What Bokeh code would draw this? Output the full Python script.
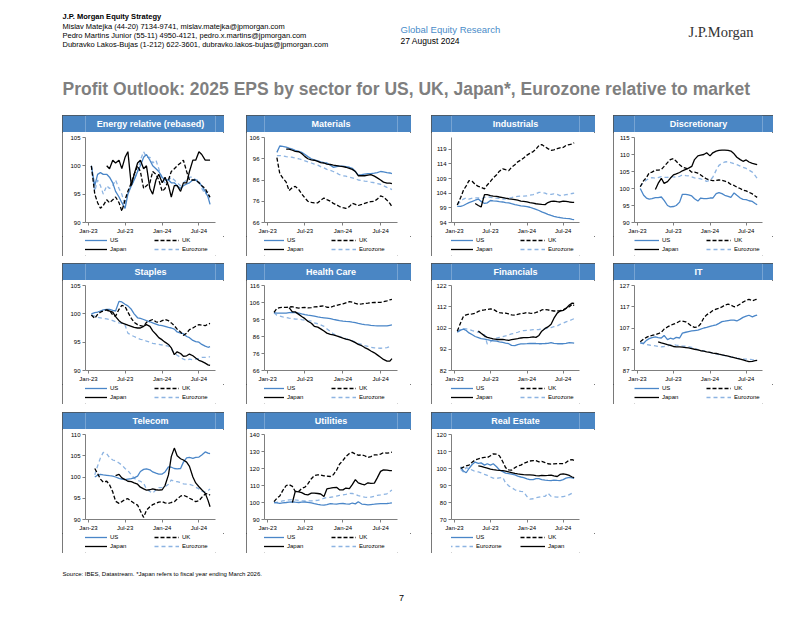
import calendar
from datetime import datetime
import numpy as np
from bokeh.plotting import figure
from bokeh.models import (Range1d, FixedTicker, DatetimeTickFormatter, Label,
                          Legend, LegendItem, Spacer, ColumnDataSource)
from bokeh.layouts import column, row
from bokeh.embed import file_html
from bokeh.resources import INLINE

FONT = "Liberation Sans"
BAR = "#4A86C4"
US_C = "#4A86C8"
EZ_C = "#8DB4E2"
AX = "#7F7F7F"

# ---------------- dates (semi-monthly, Jan-23 .. Aug-24) ----------------
DATES = [datetime(2023, 1, 15)]
for _y, _m in [(2023, mm) for mm in range(2, 13)] + [(2024, mm) for mm in range(1, 9)]:
    DATES += [datetime(_y, _m, 1), datetime(_y, _m, 15)]
DATES.append(datetime(2024, 8, 25))
N = len(DATES)

X_TICKS = [datetime(2023, 1, 1), datetime(2023, 7, 1), datetime(2024, 1, 1), datetime(2024, 7, 1)]
X_MIN, X_MAX = datetime(2022, 12, 17), datetime(2024, 9, 21)

# ---------------- data ----------------
ENERGY_US = [100, 96.5, 98.5, 98.8, 98.5, 98.5, 98, 97, 95.5, 94.5, 93.5, 92.5, 95, 96.5, 97.5, 99, 100, 101.5, 102, 101,
             100, 99.5, 99, 98, 97.5, 97.5, 97, 97, 96.5, 96, 96.5, 96.8, 97, 97.5, 97.5, 97, 96.5, 95.5, 94.5, 93.2]
ENERGY_UK = [100, 95, 93.5, 92.5, 93, 94, 93.5, 94, 94.5, 93.5, 92, 94, 95.5, 97, 98.5, 100, 99, 96, 96.5, 97,
             99, 98.5, 97.5, 95.5, 96, 97.5, 99, 99.5, 100, 100.5, 101, 99, 97.5, 97.5, 97.5, 97, 96.5, 96, 95, 94.5]
ENERGY_JP = [None] * 5 + [100, 99.5, 101, 100.5, 101, 99.5, 101.5, 102.5, 96.5, 98.5, 100.5, 101, 99.5, 100, 96,
                          95, 97.5, 98.5, 97, 98, 96.5, 94.5, 96.5, 96.5, 95.5, 97, 97, 99, 101, 101, 102.5, 102, 101, 101, 101]
ENERGY_EZ = [100, 95.5, 97.5, 96.5, 95, 96.5, 96, 96.5, 97.5, 96, 95, 93, 95.5, 96.5, 97.5, 99, 101, 102.5, 101.5, 101.5,
             100.5, 101, 99.5, 97.5, 97, 97.5, 98, 97.5, 97, 96.5, 97, 97.5, 98, 98, 97.5, 97.5, 96, 95, 95.5, 94]

MATERIALS_US = [None] * 2 + [99, 102, 101.8, 101.5, 101, 100.5, 100, 99.5, 99, 98, 97, 96, 95.5, 95, 94.5, 94.2, 94, 93, 92,
                             92.3, 92.5, 92.5, 92.3, 92, 91.5, 90, 88.3, 88.5, 88.8, 89, 89, 89.2, 89.5, 90, 89.8, 89.5, 89.3, 89]
MATERIALS_UK = [None] * 2 + [96.5, 89, 87, 85, 81, 82.5, 83, 81.5, 79.5, 77.5, 76, 75.5, 75.2, 75.3, 76.5, 77.5, 76.8, 76,
                             75, 74.3, 73.5, 73, 72.6, 73.5, 75, 74.5, 74, 74.5, 75, 75.5, 75.8, 76, 77, 78.5, 78, 76.5, 75, 73.5]
MATERIALS_JP = [None] * 5 + [100.5, 100.5, 100, 99.5, 99.3, 98.5, 97, 96, 95.5, 95.3, 94.8, 94.2, 94, 93.5, 93.3, 93, 92.8,
                             92.5, 92.3, 92, 91.5, 91, 90, 88, 88, 88, 88.3, 88.5, 87.8, 87, 86, 85, 84.5, 84.5, 84.3]
MATERIALS_EZ = [None] * 2 + [97.5, 97.5, 97.3, 97, 96.8, 96.7, 96.3, 96, 95.5, 95, 94.5, 94, 93.5, 93, 92.3, 91.7, 91, 90.5,
                             90, 89.3, 88.5, 88, 87.8, 87.3, 87, 86.5, 86, 85.8, 85.5, 85.3, 85, 84.7, 84.3, 84, 83.3, 82.5, 82, 81.5]

INDUSTRIALS_US = [99.5, 99.5, 99.8, 100.3, 100.8, 101.2, 101.6, 102, 101.2, 100.5, 100.7, 101.5, 101.4, 101.3, 101.1, 101,
                  100.8, 100.7, 100.4, 100.1, 99.9, 99.7, 99.6, 99.4, 99.2, 98.8, 98.5, 98.1, 97.6, 97.2, 96.8, 96.4, 96.1,
                  95.8, 95.7, 95.5, 95.4, 95.3, 95.1, 95]
INDUSTRIALS_UK = [100, 102.5, 105, 106.5, 108.3, 108, 107, 106.3, 106, 105.5, 106.8, 108, 109.2, 110.3, 111.5, 112.3, 112,
                  111.7, 112.8, 113.7, 114.7, 115.3, 116, 117, 117.6, 118.2, 119, 120.3, 120.6, 119.8, 119.2, 118.6, 118.8,
                  119.2, 119.5, 119.6, 120.3, 120.6, 120.8, 121.2]
INDUSTRIALS_JP = [None] * 6 + [100.5, 99.8, 99.3, 103.5, 103.5, 103.2, 103, 102.9, 102.7, 102.5, 102.3, 102.1, 102, 101.8,
                               101.6, 101.3, 101.2, 101, 100.8, 100.6, 100.4, 100.3, 100.2, 100.1, 100.8, 101.2, 101.3, 101.1,
                               101, 101.3, 101.2, 101, 100.9, 100.9]
INDUSTRIALS_EZ = [100, 101.2, 102, 102.4, 102, 102.3, 102.4, 102.4, 102, 102.6, 102.8, 102.6, 102.4, 102.3, 102.2, 102,
                  102.1, 102.3, 102.5, 102.8, 102.9, 103, 103, 103.1, 103.3, 103.5, 103.8, 104.3, 104.2, 104, 103.6, 103.6,
                  103.8, 103.6, 103.2, 103.3, 103.5, 103.6, 103.9, 104]

DISCRETIONARY_US = [100, 98, 97.2, 96.9, 97, 97.3, 97.3, 97.5, 96.5, 95, 94.6, 94.7, 95, 96, 98.3, 98.3, 98.1, 97.8, 97, 96.3,
                    97.2, 97, 97, 97.2, 97.2, 98.5, 98.8, 98.5, 98, 97.7, 97.4, 98.7, 98, 97.2, 96.8, 96.7, 96.4, 96.2, 95.6, 95.2]
DISCRETIONARY_UK = [100.5, 102.3, 103.2, 104.6, 104.8, 105.4, 105.4, 105.6, 106.5, 107.6, 108.5, 108.8, 108, 107, 106.3, 106,
                    105.6, 104.8, 104.8, 104.5, 104, 103.3, 102.8, 102.5, 102.3, 102.4, 102.5, 102.4, 102.2, 101.8, 101.2,
                    100.9, 100.4, 100, 99.5, 99.3, 98.9, 98.4, 97.8, 97.4]
DISCRETIONARY_JP = [None] * 5 + [99.7, 101.5, 103, 101.5, 102, 103, 104, 104.3, 104.7, 105.2, 105.6, 106, 106.5, 108.5, 109.6,
                                 109.8, 110, 110.5, 109.6, 110.5, 111, 111.2, 111.3, 111.3, 111.2, 111, 110.2, 109.2, 108.5,
                                 108, 108.4, 107.8, 107.4, 107.2, 107]
DISCRETIONARY_EZ = [100.6, 101.8, 102.5, 103, 103.2, 103, 103.2, 103.5, 103.3, 103.3, 103.5, 103.4, 103.3, 103.6, 104, 103.8,
                    103.7, 103.4, 103.1, 103, 102.8, 102.5, 102.1, 102.4, 103.3, 105.4, 106.8, 107.4, 107.8, 107.9, 107.6,
                    107.3, 107, 106.6, 106.2, 105.9, 105.4, 104.8, 103.8, 103]

STAPLES_US = [100, 100.2, 100.3, 100.5, 100.7, 100.8, 100.8, 100.6, 100.5, 102.2, 102.1, 101.7, 101.4, 100.8, 100, 99.3, 99.2,
              99, 98.8, 98.6, 98.4, 98.2, 98, 97.9, 97.8, 97.6, 97.5, 97.3, 96.8, 96.6, 96.5, 96, 95.8, 95.3, 95.1, 95, 94.6,
              94.3, 94.1, 94.2]
STAPLES_UK = [99.8, 99.2, 99.9, 100.3, 100.5, 100.7, 100.6, 99.8, 99.6, 100.8, 101.5, 101.3, 100.3, 99.2, 98.5, 98.1, 97.9,
              97.8, 98.5, 98.8, 99, 98.6, 98.5, 98.8, 99, 98.8, 98.4, 97.9, 97.3, 96.8, 96.2, 96.6, 97.2, 97.5, 97.8, 98.1, 98,
              97.9, 98.2, 98.3]
STAPLES_JP = [None] * 5 + [100.6, 100.5, 100.3, 99.5, 98.8, 98.4, 98.2, 98, 97.8, 97.6, 97.5, 97.5, 97.8, 98.1, 97.8, 97,
                           96.4, 95.8, 95.4, 95, 94.6, 94, 92.8, 93.3, 93, 92.5, 92.6, 92.9, 92.6, 92.2, 91.8, 91.6, 91.3, 91,
                           90.9]
STAPLES_EZ = [99.8, 99.6, 99.4, 99.3, 99.2, 99.1, 99, 98.8, 98.6, 98.4, 98.3, 98, 96.6, 96.2, 96, 95.7, 95.5, 95.4, 95.2, 95,
              94.8, 94.7, 94.6, 94.5, 94.4, 94.3, 93.8, 93.1, 92.7, 92.3, 92, 91.8, 92, 91.9, 92, 92.1, 92.3, 92.3, 92.4, 92.4]

HEALTHCARE_US = [None] + [100, 99.8, 99.7, 99.7, 99.8, 100, 100.2, 100, 99.7, 99.3, 98.9, 98.6, 98.3, 98, 97.5, 97.2, 97,
                          96.8, 96.5, 96.1, 95.7, 95.4, 95.1, 94.9, 94.7, 94.4, 94.1, 93.7, 93.3, 93, 92.8, 92.6, 92.4, 92.3,
                          92.2, 92.2, 92.3, 92.6, 92.8]
HEALTHCARE_UK = [None] + [100.2, 102.5, 103, 103.1, 103.1, 103.3, 103.5, 103, 102.7, 103, 103.1, 102.8, 103, 103.4, 103.5,
                          103.8, 104, 103.2, 103.1, 103.8, 104.3, 104.8, 105.2, 105.8, 106.5, 106.2, 105.5, 105, 105.2,
                          105.4, 105.6, 105.9, 106, 106, 106.1, 106.5, 107, 107.6, 107.8]
HEALTHCARE_JP = [None] * 6 + [103, 100.5, 100.5, 99, 97.8, 96.5, 95, 93.8, 92, 91.5, 90.5, 89.2, 88, 87.3, 87, 86.4, 85.8,
                              85, 84.4, 84, 83.3, 82.4, 81.4, 80.6, 79.5, 78.6, 77.5, 76.4, 75.2, 73.8, 72.5, 71.5, 71.5, 73]
HEALTHCARE_EZ = [None] + [100, 98.5, 98, 97.5, 97.2, 96.8, 96.4, 96.3, 96.2, 95.9, 95.6, 95.3, 95, 94, 93.5, 92.8, 92, 90.5,
                          89, 87.5, 86.6, 85.9, 85.3, 84.7, 84.1, 83.5, 82.8, 82, 81.3, 80.7, 80.2, 79.7, 79.3, 79.2, 79.1,
                          79.2, 79.5, 80, 80]

FINANCIALS_US = [100, 101, 101.5, 100.8, 99.7, 98.8, 98, 97.5, 97, 96.8, 96.5, 96.2, 96, 95.8, 95.5, 95.2, 94.9, 94.6, 93.8,
                 93.7, 94.2, 94.5, 94.5, 94.6, 94.7, 94.8, 94.7, 94.6, 94.6, 94.7, 94.8, 95.1, 94.8, 94.6, 94.6, 94.6, 94.8,
                 95.1, 95, 94.9]
FINANCIALS_UK = [100.5, 104.5, 107.5, 108.2, 108.5, 108.6, 108.9, 109.8, 110.3, 110.5, 110.7, 111, 110.8, 109.8, 109.2, 109,
                 109, 108.6, 108.2, 108, 108.4, 108.8, 108.9, 109.3, 109, 108.8, 109.3, 109.7, 110.5, 110.7, 110.5, 110.2,
                 110, 110, 110.2, 110.5, 111.3, 112, 113.2, 112.6]
FINANCIALS_JP = [None] * 7 + [100.6, 99.5, 98.3, 97.6, 97.2, 96.9, 96.6, 96.6, 96.6, 96.4, 96.2, 96.5, 96.8, 97, 97.3, 97.5,
                              97.5, 97.6, 97.8, 97.6, 98.5, 100.5, 101.8, 102.5, 103.8, 106.5, 109, 110, 110.3, 111.2, 112.8,
                              113.7, 113.6]
FINANCIALS_EZ = [100.3, 101.5, 101.7, 101.6, 101.3, 100.8, 100.4, 100, 99.6, 98.8, 94.5, 95.5, 96.5, 97.2, 97.6, 97.9, 98.3,
                 98.8, 99.2, 99.6, 100, 100.5, 100.8, 100.9, 101, 101.2, 101.2, 101.3, 101.5, 101.7, 101.9, 102.2, 102.6, 103,
                 103.7, 104.3, 104.9, 105.4, 106, 106.4]

IT_US = [100, 99.8, 101.2, 102, 102.5, 102.8, 102.5, 102.3, 103.5, 101.5, 102.2, 101.8, 102.6, 102.3, 104.6, 105, 105.3, 105.6,
         105.8, 106, 106.5, 107, 107.3, 107.8, 108.1, 108.5, 109.2, 110, 110.2, 110.5, 110.7, 110.7, 110.3, 111.2, 112, 112.6,
         113, 112.2, 112.8, 113.1]
IT_UK = [100.5, 101.8, 102.6, 103.2, 103.5, 103.9, 104.3, 105, 106.5, 107.5, 108.2, 108.8, 109.3, 110.2, 110.3, 109.9, 109,
         107.8, 107.3, 107.5, 109, 111.8, 113.2, 114.2, 115.2, 115.9, 116.3, 116.9, 117.8, 118.2, 117.8, 117, 117.3, 118.3,
         119.2, 120, 120.5, 119.8, 120.3, 120.5]
IT_JP = [None] * 6 + [100.5, 100, 99.7, 99.2, 98.8, 98.3, 98.1, 98.1, 98, 97.8, 97.6, 97.3, 97, 96.7, 96.3, 96.1, 95.8, 95.5,
                      95.2, 95, 94.7, 94.4, 94.1, 93.8, 93.4, 93.1, 92.7, 92.4, 92, 91.5, 91.2, 91.3, 91.6, 91.8]
IT_EZ = [100, 99.5, 99.2, 99, 98.8, 98.6, 98.3, 98.1, 98.3, 98.6, 99, 99.1, 98.9, 98.7, 98.5, 98.4, 98.2, 97.9, 97.4, 96.8,
         96.4, 96.2, 95.8, 95.5, 95.1, 94.8, 94.5, 94.3, 94, 93.7, 93.4, 93.1, 92.8, 92.5, 92.4, 92.4, 92.3, 92.1, 92, 92]

TELECOM_US = [None] + [100, 100.4, 100.6, 100.5, 100.4, 100.3, 100.2, 100, 99.7, 99.5, 99.4, 99.5, 99.6, 99.8, 100.2, 101.3,
                       101.8, 101.9, 101.7, 101.2, 100.9, 100.7, 100.7, 101.2, 102.4, 102.3, 102, 101.9, 102, 103.5, 104.5,
                       104.6, 104.4, 104.6, 104.7, 105.2, 105.9, 105.6, 105.5]
TELECOM_UK = [None] + [102, 100.8, 99.5, 98.8, 99, 98.2, 96.5, 94.3, 93.8, 94.2, 94.7, 94.9, 94.3, 93.8, 93.4, 92, 90.5, 92.2,
                       93, 93.5, 93.8, 94.1, 94.2, 93.9, 93.8, 94, 94.2, 94.8, 95.5, 95.7, 95.4, 95, 94.6, 94.2, 94.4, 95.2,
                       96, 96.1, 95.7]
TELECOM_JP = [None] * 8 + [100.3, 100.6, 99.8, 99.4, 99, 98.9, 98.6, 98.3, 97.6, 97.2, 96.9, 97, 97.2, 97, 96.9, 97, 98,
                           100.5, 104.8, 106.8, 105, 104.3, 104, 103.5, 102.5, 100, 98.6, 97.7, 97, 96.2, 94.5, 93]
TELECOM_EZ = [None] + [100.5, 102.6, 104.5, 105.8, 105.5, 104.6, 104, 103.8, 103.3, 102.8, 102, 101.5, 100.5, 99.7, 99.2, 99,
                       98.5, 97.2, 96.6, 96.2, 97, 97.5, 97.5, 97.7, 98.3, 99.3, 99, 98.9, 98.7, 98.4, 98.3, 98.3, 98, 97.6,
                       97.2, 96.6, 96.5, 96.8, 97.2]

UTILITIES_US = [None] + [100, 99.8, 99.5, 99.8, 100, 100.2, 100.4, 100.2, 100, 100.2, 100.3, 100.1, 99.8, 99.3, 98.9, 98.6,
                         98.5, 98.8, 99.3, 99.2, 99.1, 99.3, 99.4, 99.2, 99, 99.7, 99.2, 100.4, 99.1, 98.9, 98.6, 98.8, 99,
                         99.2, 99.3, 99.3, 99.4, 99.6, 99.8]
UTILITIES_UK = [None] + [100.5, 102.5, 103.8, 107, 110, 110.5, 109.5, 106.5, 106.5, 108.3, 109, 111, 114, 115.8, 116.3, 116.2,
                         115.7, 115.5, 115.3, 116.3, 119, 122.5, 124.8, 127, 128.8, 129.5, 128.5, 127.8, 128, 127.5, 126.5,
                         127, 128, 128, 128.5, 129.3, 129, 129.3, 129.6]
UTILITIES_JP = [None] * 7 + [100, 106.5, 106.2, 105.8, 104.8, 104.5, 105.5, 105.5, 105.3, 105, 103.5, 108, 108.4, 108.8,
                             108.9, 107.5, 107.4, 108.5, 108.2, 110.5, 113.5, 111.5, 110.8, 110.4, 111.6, 111.3, 111.4, 114.5,
                             118.3, 119.2, 119, 118.8, 118.7]
UTILITIES_EZ = [None] + [100, 100.1, 100.5, 100.9, 101.2, 101.6, 101.7, 101.5, 101.3, 101.1, 100.9, 100.9, 101, 101.1, 101.3,
                         101.8, 102.5, 102.9, 103.1, 103.3, 103.8, 104.2, 104.5, 104.8, 105.4, 105.3, 104.8, 104, 103.5,
                         103.2, 102.9, 103.2, 103.7, 104.2, 104.5, 104.8, 105.1, 106.5, 107.4]

REALESTATE_US = [None] + [101, 98.5, 97.5, 100, 102.5, 103.8, 103, 103.3, 102, 102.8, 102, 102.8, 101, 99.2, 98.2, 97.3, 97,
                          96.7, 96.2, 95.5, 95, 94.6, 93.9, 93.4, 93.4, 94.1, 94, 93.5, 93.2, 93, 92.9, 93.2, 93, 92.9, 93.5,
                          94.3, 94.8, 94.5, 94.2]
REALESTATE_UK = [None] + [100, 100.8, 101.5, 102, 103.8, 105, 105.6, 106.2, 106.6, 106.4, 107.5, 108.6, 108.4, 107.5, 104,
                          100.5, 99.2, 99, 100.5, 101.4, 102, 103, 103.8, 104.4, 104.6, 104.6, 103.9, 104.2, 103.5, 102.8,
                          102.6, 102.7, 102.9, 102.9, 102.9, 103.5, 105, 105.2, 104.8]
REALESTATE_JP = [None] * 7 + [101.5, 101.2, 100.6, 100.2, 99.6, 99.3, 99, 98.9, 98.8, 98.5, 98, 97.6, 97.1, 96.8, 96.6, 96.4,
                              96.2, 96.2, 96.1, 95.8, 95.7, 96, 95.8, 95.9, 96.1, 95.6, 95.3, 96.5, 96.9, 96.6, 95.9, 95,
                              94.6]
REALESTATE_EZ = [None] + [99.5, 98, 100.5, 100, 99, 98.2, 98, 97.4, 96.6, 96, 95, 94.3, 94.2, 94.5, 94.8, 91.5, 89.8, 88.8,
                          87.5, 86.8, 86.5, 86.3, 83.5, 82, 82.2, 82.8, 83.2, 83.5, 83.6, 85.5, 83.6, 83.3, 83.2, 83.3, 83.5,
                          83.8, 84.6, 85.5, 86]

LEGEND_STD = [["US", "UK"], ["Japan", "Eurozone"]]
LEGEND_RE = [["US", "UK"], ["Eurozone", "Japan"]]

PANELS = [
    ("Energy relative (rebased)", (90, 105), [90, 95, 100, 105],
     {"US": ENERGY_US, "UK": ENERGY_UK, "Japan": ENERGY_JP, "Eurozone": ENERGY_EZ}, LEGEND_STD),
    ("Materials", (66, 106), [66, 76, 86, 96, 106],
     {"US": MATERIALS_US, "UK": MATERIALS_UK, "Japan": MATERIALS_JP, "Eurozone": MATERIALS_EZ}, LEGEND_STD),
    ("Industrials", (94, 123), [94, 99, 104, 109, 114, 119],
     {"US": INDUSTRIALS_US, "UK": INDUSTRIALS_UK, "Japan": INDUSTRIALS_JP, "Eurozone": INDUSTRIALS_EZ}, LEGEND_STD),
    ("Discretionary", (90, 115), [90, 95, 100, 105, 110, 115],
     {"US": DISCRETIONARY_US, "UK": DISCRETIONARY_UK, "Japan": DISCRETIONARY_JP, "Eurozone": DISCRETIONARY_EZ}, LEGEND_STD),
    ("Staples", (90, 105), [90, 95, 100, 105],
     {"US": STAPLES_US, "UK": STAPLES_UK, "Japan": STAPLES_JP, "Eurozone": STAPLES_EZ}, LEGEND_STD),
    ("Health Care", (66, 116), [66, 76, 86, 96, 106, 116],
     {"US": HEALTHCARE_US, "UK": HEALTHCARE_UK, "Japan": HEALTHCARE_JP, "Eurozone": HEALTHCARE_EZ}, LEGEND_STD),
    ("Financials", (82, 122), [82, 92, 102, 112, 122],
     {"US": FINANCIALS_US, "UK": FINANCIALS_UK, "Japan": FINANCIALS_JP, "Eurozone": FINANCIALS_EZ}, LEGEND_STD),
    ("IT", (87, 127), [87, 97, 107, 117, 127],
     {"US": IT_US, "UK": IT_UK, "Japan": IT_JP, "Eurozone": IT_EZ}, LEGEND_STD),
    ("Telecom", (90, 110), [90, 95, 100, 105, 110],
     {"US": TELECOM_US, "UK": TELECOM_UK, "Japan": TELECOM_JP, "Eurozone": TELECOM_EZ}, LEGEND_STD),
    ("Utilities", (90, 140), [90, 100, 110, 120, 130, 140],
     {"US": UTILITIES_US, "UK": UTILITIES_UK, "Japan": UTILITIES_JP, "Eurozone": UTILITIES_EZ}, LEGEND_STD),
    ("Real Estate", (70, 120), [70, 80, 90, 100, 110, 120],
     {"US": REALESTATE_US, "UK": REALESTATE_UK, "Japan": REALESTATE_JP, "Eurozone": REALESTATE_EZ}, LEGEND_RE),
]

STYLE = {
    "US": dict(line_color=US_C, line_width=1.3),
    "UK": dict(line_color="black", line_width=1.3, line_dash="4 2"),
    "Japan": dict(line_color="black", line_width=1.3),
    "Eurozone": dict(line_color=EZ_C, line_width=1.3, line_dash="4 3"),
}
DRAW_ORDER = ["Eurozone", "US", "UK", "Japan"]

# layout geometry (page pixel coordinates)
PAGE_W, PAGE_H = 802, 620
COL_X = [62, 246, 431, 613]
COL_W = [162, 165, 164, 160]
LEFT_PAD = [23, 17, 20, 21]
RIGHT_PAD = [9, 14, 16, 11]
LEG_X = [-3, -5, -3, 0]         # legend key offset inside the legend strip
ROW_Y = [115, 263, 412]
PANEL_H = 141
BAR_H = 17
LEG_H = 20
TOP_PAD = 5
BOTTOM_PAD = 13


def ms(d):
    return calendar.timegm(d.timetuple()) * 1000.0


def to_arr(vals):
    vals = (list(vals) + [None] * N)[:N]
    return np.array([np.nan if v is None else float(v) for v in vals], dtype=float)


def make_panel(ci, title, yr, yticks, series, legend_rows):
    W = COL_W[ci]
    # title bar
    tb = figure(width=W, height=BAR_H, x_range=Range1d(0, 1), y_range=Range1d(0, 1),
                x_axis_type=None, y_axis_type=None, toolbar_location=None, min_border=0,
                outline_line_color=None, background_fill_color=BAR, border_fill_color=BAR,
                output_backend="svg", title=None)
    tb.add_layout(Label(x=0.5, y=0.5, text=title, text_align="center", text_baseline="middle",
                        text_color="white", text_font=FONT, text_font_size="9px",
                        text_font_style="bold"))

    # chart
    p = figure(width=W, height=PANEL_H - BAR_H - LEG_H, x_axis_type="datetime",
               x_range=Range1d(X_MIN, X_MAX), y_range=Range1d(*yr),
               toolbar_location=None, min_border_left=LEFT_PAD[ci], min_border_right=RIGHT_PAD[ci],
               min_border_top=TOP_PAD, min_border_bottom=BOTTOM_PAD, outline_line_color=None,
               background_fill_color="white", border_fill_color="white",
               output_backend="svg", title=None)
    p.grid.visible = False
    for ax in (p.xaxis[0], p.yaxis[0]):
        ax.axis_line_color = AX
        ax.major_tick_line_color = AX
        ax.minor_tick_line_color = None
        ax.major_tick_out = 3
        ax.major_tick_in = 0
        ax.major_label_text_font = FONT
        ax.major_label_text_font_size = "6px"
        ax.major_label_text_color = "#000000"
        ax.major_label_standoff = 2
    p.yaxis.ticker = FixedTicker(ticks=yticks)
    p.xaxis.ticker = FixedTicker(ticks=[ms(d) for d in X_TICKS])
    p.xaxis.formatter = DatetimeTickFormatter(days="%b-%y", months="%b-%y", years="%b-%y")

    for name in DRAW_ORDER:
        src = ColumnDataSource(dict(x=DATES, y=to_arr(series[name])))
        p.line("x", "y", source=src, **STYLE[name])

    # legend strip: key renderers carry one empty (NaN) sample so only the legend keys show
    lf = figure(width=W, height=LEG_H, x_range=Range1d(0, 1), y_range=Range1d(0, 1),
                x_axis_type=None, y_axis_type=None, toolbar_location=None, min_border=0,
                outline_line_color=None, background_fill_color="white", border_fill_color="white",
                output_backend="svg", title=None)
    keys = {}
    for name in DRAW_ORDER:
        ksrc = ColumnDataSource(dict(x=[np.nan], y=[np.nan]))
        keys[name] = lf.line("x", "y", source=ksrc, **STYLE[name])
    for ri, names in enumerate(legend_rows):
        items = [LegendItem(label=n, renderers=[keys[n]]) for n in names]
        lg = Legend(items=items, orientation="horizontal", location=(LEG_X[ci], 12 - 9 * ri),
                    glyph_width=25, glyph_height=8, label_standoff=3, label_width=40,
                    label_height=8, spacing=4, padding=0, margin=0,
                    border_line_color=None, background_fill_alpha=0,
                    label_text_font=FONT, label_text_font_size="6px", label_text_color="#000000")
        lf.add_layout(lg)

    return column(tb, p, lf, spacing=0,
                  styles={"outline": "1px solid #4D4D4D", "outline-offset": "-1px"})


def make_row(panels):
    kids = []
    x = 0
    for ci, pnl in enumerate(panels):
        gap = COL_X[ci] - x
        if gap > 0:
            kids.append(Spacer(width=gap, height=PANEL_H))
        kids.append(pnl)
        x = COL_X[ci] + COL_W[ci]
    return row(kids, spacing=0)


panel_models = []
for i, (t, yr, yt, ser, order) in enumerate(PANELS):
    panel_models.append(make_panel(i % 4, t, yr, yt, ser, order))


def txt(fig, x, y, s, size, color="#000000", style="normal", font=FONT, align="left"):
    fig.add_layout(Label(x=x, y=y, text=s, text_font=font, text_font_size=size, text_color=color,
                         text_font_style=style, text_align=align, text_baseline="middle"))


# ---------------- header ----------------
HEAD_H = ROW_Y[0]
hd = figure(width=PAGE_W, height=HEAD_H, x_range=Range1d(0, PAGE_W), y_range=Range1d(HEAD_H, 0),
            x_axis_type=None, y_axis_type=None, toolbar_location=None, min_border=0,
            outline_line_color=None, output_backend="svg", title=None)
txt(hd, 62, 16, "J.P. Morgan Equity Strategy", "7.5px", style="bold")
txt(hd, 62, 26, "Mislav Matejka (44-20) 7134-9741, mislav.matejka@jpmorgan.com", "7.5px")
txt(hd, 62, 35, "Pedro Martins Junior (55-11) 4950-4121, pedro.x.martins@jpmorgan.com", "7.5px")
txt(hd, 62, 44, "Dubravko Lakos-Bujas (1-212) 622-3601, dubravko.lakos-bujas@jpmorgan.com", "7.5px")
txt(hd, 400, 29, "Global Equity Research", "9.5px", color="#4A8CC9")
txt(hd, 400, 40, "27 August 2024", "8.5px")
txt(hd, 688, 31, "J.P.Morgan", "14.5px", color="#333333", font="Liberation Serif")
txt(hd, 62, 88, "Profit Outlook: 2025 EPS by sector for US, UK, Japan*, Eurozone relative to market",
    "17.5px", color="#7F7F7F", style="bold")

# ---------------- footer ----------------
FOOT_TOP = ROW_Y[2] + PANEL_H
FOOT_H = PAGE_H - FOOT_TOP
ft = figure(width=PAGE_W, height=FOOT_H, x_range=Range1d(0, PAGE_W), y_range=Range1d(FOOT_H, 0),
            x_axis_type=None, y_axis_type=None, toolbar_location=None, min_border=0,
            outline_line_color=None, output_backend="svg", title=None)
txt(ft, 62, 573 - FOOT_TOP, "Source: IBES, Datastream. *Japan refers to fiscal year ending March 2026.", "6px")
txt(ft, 401, 597 - FOOT_TOP, "7", "9px", align="center")

layout = column(
    hd,
    make_row(panel_models[0:4]),
    Spacer(height=ROW_Y[1] - ROW_Y[0] - PANEL_H, width=10),
    make_row(panel_models[4:8]),
    Spacer(height=ROW_Y[2] - ROW_Y[1] - PANEL_H, width=10),
    make_row(panel_models[8:11]),
    ft,
    spacing=0,
)

open("out.html", "w").write(file_html(layout, INLINE))
